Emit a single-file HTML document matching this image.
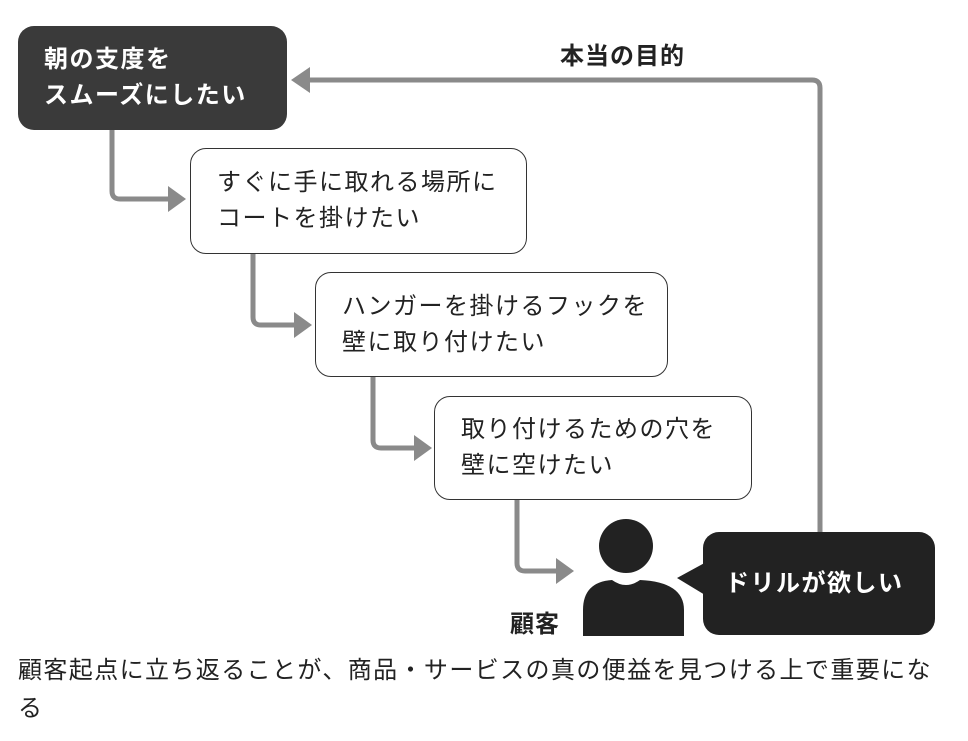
<!DOCTYPE html>
<html><head><meta charset="utf-8"><style>
body{margin:0;width:968px;height:741px;background:#fff;overflow:hidden;position:relative;font-family:"Liberation Sans","Noto Sans CJK JP",sans-serif;}
.b{position:absolute;box-sizing:border-box;border-radius:16px;font-size:24px;line-height:36px;letter-spacing:1.5px;padding-left:26px;display:flex;flex-direction:column;justify-content:center;}
.w{border:1.5px solid #333;background:#fff;color:#222;}
.d{background:#3a3a3a;color:#fff;font-weight:bold;}
.t{position:absolute;font-size:24px;letter-spacing:1px;color:#222;}
</style></head><body>
<svg width="968" height="741" style="position:absolute;left:0;top:0">
<g fill="none" stroke="#8a8a8a" stroke-width="5">
<path d="M820 533 V88 Q820 80 812 80 H305"/>
<path d="M112 130 V191 Q112 199 120 199 H172"/>
<path d="M253 254 V317 Q253 325 261 325 H298"/>
<path d="M373 377 V440 Q373 448 381 448 H418"/>
<path d="M517 500 V563 Q517 571 525 571 H558"/>
</g>
<g fill="#8a8a8a">
<polygon points="291,80 310,67 310,93"/>
<polygon points="186,199 168,186 168,212"/>
<polygon points="312,325 294,312 294,338"/>
<polygon points="432,448 414,435 414,461"/>
<polygon points="574,571 556,558 556,584"/>
</g>
<circle cx="626" cy="546" r="27" fill="#222"/>
<path d="M583 636 V610 Q583 582 612 580 Q626 590 640 580 Q684 582 684 610 V636 Z" fill="#222"/>
<polygon points="677,578 710,560 710,598" fill="#222"/>
</svg>
<div class="b d" style="left:18px;top:26px;width:269px;height:104px;">朝の支度を<br>スムーズにしたい</div>
<div class="b w" style="left:190px;top:148px;width:337px;height:106px;">すぐに手に取れる場所に<br>コートを掛けたい</div>
<div class="b w" style="left:315px;top:272px;width:353px;height:105px;">ハンガーを掛けるフックを<br>壁に取り付けたい</div>
<div class="b w" style="left:434px;top:396px;width:318px;height:104px;">取り付けるための穴を<br>壁に空けたい</div>
<div class="b" style="left:703px;top:532px;width:232px;height:103px;background:#222;color:#fff;font-weight:bold;padding-left:22px;">ドリルが欲しい</div>
<div class="t" style="left:560px;top:36px;font-weight:bold;">本当の目的</div>
<div class="t" style="left:510px;top:604px;font-weight:bold;">顧客</div>
<div class="t" style="left:18px;top:652px;line-height:38px;width:945px;letter-spacing:1.4px;">顧客起点に立ち返ることが、商品・サービスの真の便益を見つける上で重要にな<br>る</div>
</body></html>
